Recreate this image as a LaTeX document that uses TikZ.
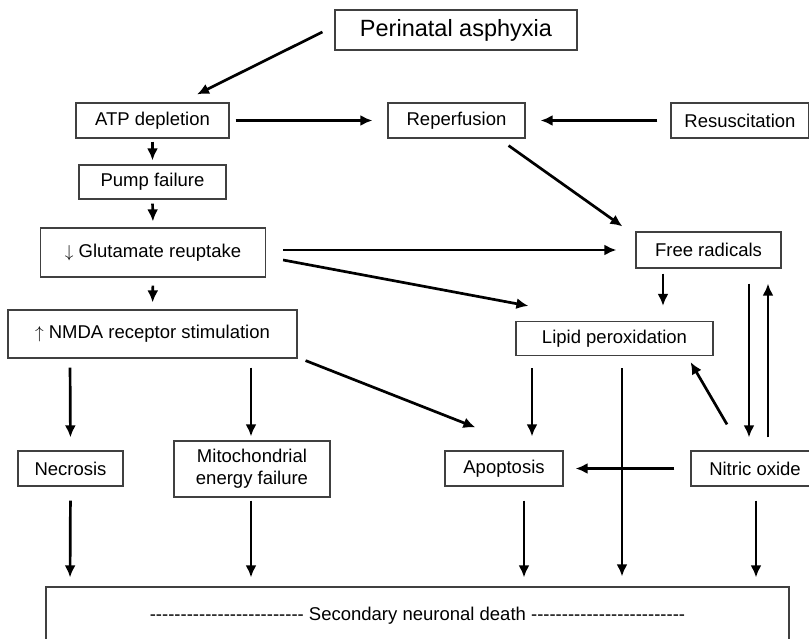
\documentclass[tikz,border=0pt]{standalone}
\usepackage{fontspec}
\setmainfont{Liberation Sans}
\usetikzlibrary{arrows.meta}
\newcommand{\dashrun}{\foreach \k in {1,...,25}{\mbox{-}}}

\begin{document}
\begin{tikzpicture}[x=1pt, y=-1pt,
  box/.style={draw=black!75, line width=1.2pt, inner sep=0pt, align=center, font=\fontsize{18.5}{22}\selectfont},
  arr/.style={-{Latex[length=12pt,width=11pt]}, line width=2.7pt}]

\clip (0,0) rectangle (809,639);
\fill[white] (0,0) rectangle (809,639);

\node (asph) at (456,30) [box, minimum width=242pt, minimum height=40pt, font=\fontsize{23.5}{26}\selectfont] {Perinatal asphyxia};
\node (atp) at (152.5,120.5) [box, minimum width=153pt, minimum height=35pt] {ATP depletion};
\node (rep) at (456.5,120.5) [box, minimum width=137pt, minimum height=35pt] {Reperfusion};
\node (resus) at (740,120.5) [box, minimum width=138pt, minimum height=35pt] {Resuscitation};
\node (pump) at (152.5,182) [box, minimum width=147pt, minimum height=34pt] {Pump failure};
\node (glut) at (153,252.5) [box, minimum width=225pt, minimum height=49pt] {$\downarrow$ Glutamate reuptake};
\node (free) at (708.5,250) [box, minimum width=145pt, minimum height=36pt] {Free radicals};
\node (nmda) at (152.5,334) [box, minimum width=289pt, minimum height=48pt] {$\uparrow$ NMDA receptor stimulation};
\node (lipid) at (614.5,338.5) [box, minimum width=197pt, minimum height=34pt] {Lipid peroxidation};
\node (necr) at (70.5,468.5) [box, minimum width=105pt, minimum height=35pt] {Necrosis};
\node (mito) at (252,469) [box, minimum width=156pt, minimum height=56pt] {Mitochondrial\\energy failure};
\node (apop) at (504,468.5) [box, minimum width=118pt, minimum height=35pt] {Apoptosis};
\node (nitric) at (755,468.5) [box, minimum width=128pt, minimum height=35pt] {Nitric oxide};
\node (death) at (417.5,616) [box, minimum width=743pt, minimum height=58pt] {\dashrun\ Secondary neuronal death \dashrun};

% top row
\draw[arr] ([xshift=-12pt,yshift=-2pt]asph.west) -- ([xshift=44.5pt,yshift=8pt]atp.north);
\draw[arr, shorten <=6pt, shorten >=15pt] (atp.east) -- (rep.west);
\draw[arr, shorten <=13pt, shorten >=15pt] (resus.west) -- (rep.east);
\draw[arr, shorten <=3pt, shorten >=4pt] (atp.south) -- (pump.north);
\draw[arr, shorten <=4pt, shorten >=6pt] (pump.south) -- (glut.north);
\draw[arr, shorten <=8pt, shorten >=7pt] (glut.south) -- (nmda.north);
\draw[arr] ([xshift=-17pt,yshift=-7pt]rep.south east) -- ([xshift=-13pt,yshift=5pt]free.north west);
\draw[arr, shorten <=17pt, shorten >=19pt] (glut.east |- free.west) -- (free.west);
\draw[arr] ([xshift=17pt,yshift=-7.5pt]glut.east) -- ([xshift=13pt,yshift=15pt]lipid.north west);
\draw[arr, shorten <=5pt, shorten >=15pt] ([xshift=-45.5pt]free.south) -- ([xshift=48.5pt]lipid.north);
\draw[arr, shorten <=15pt, shorten >=13pt] ([xshift=40.5pt]free.south) -- ([xshift=-6pt]nitric.north);
\draw[arr, shorten <=13pt, shorten >=15pt] ([xshift=13pt]nitric.north) -- ([xshift=59.5pt]free.south);
\draw[arr] ([xshift=-28pt,yshift=26pt]nitric.north) -- ([xshift=-23pt,yshift=-6pt]lipid.south east);

% middle row
\draw[arr] ([xshift=8pt,yshift=-2pt]nmda.south east) -- ([xshift=31pt,yshift=23pt]apop.north west);
\draw[arr, shorten <=9pt, shorten >=13pt] ([xshift=-82.5pt]nmda.south) -- (necr.north);
\draw[arr, shorten <=9pt, shorten >=4pt] ([xshift=98.5pt]nmda.south) -- ([xshift=-1pt]mito.north);
\draw[arr, shorten <=12pt, shorten >=14pt] ([xshift=-82.5pt]lipid.south) -- ([xshift=28pt]apop.north);
\draw[arr, shorten <=12pt, shorten >=10pt] ([xshift=7.5pt]lipid.south) -- ([xshift=204.5pt]death.north);
\draw[arr, shorten <=16pt, shorten >=12pt] (nitric.west) -- (apop.east);

% bottom row
\draw[arr, shorten <=14pt, shorten >=9pt] (necr.south) -- ([xshift=-347.5pt]death.north);
\draw[arr, shorten <=3pt, shorten >=9pt] ([xshift=-1pt]mito.south) -- ([xshift=-166.5pt]death.north);
\draw[arr, shorten <=14pt, shorten >=9pt] ([xshift=20pt]apop.south) -- ([xshift=106.5pt]death.north);
\draw[arr, shorten <=14pt, shorten >=9pt] ([xshift=1pt]nitric.south) -- ([xshift=338.5pt]death.north);
\end{tikzpicture}
\end{document}
